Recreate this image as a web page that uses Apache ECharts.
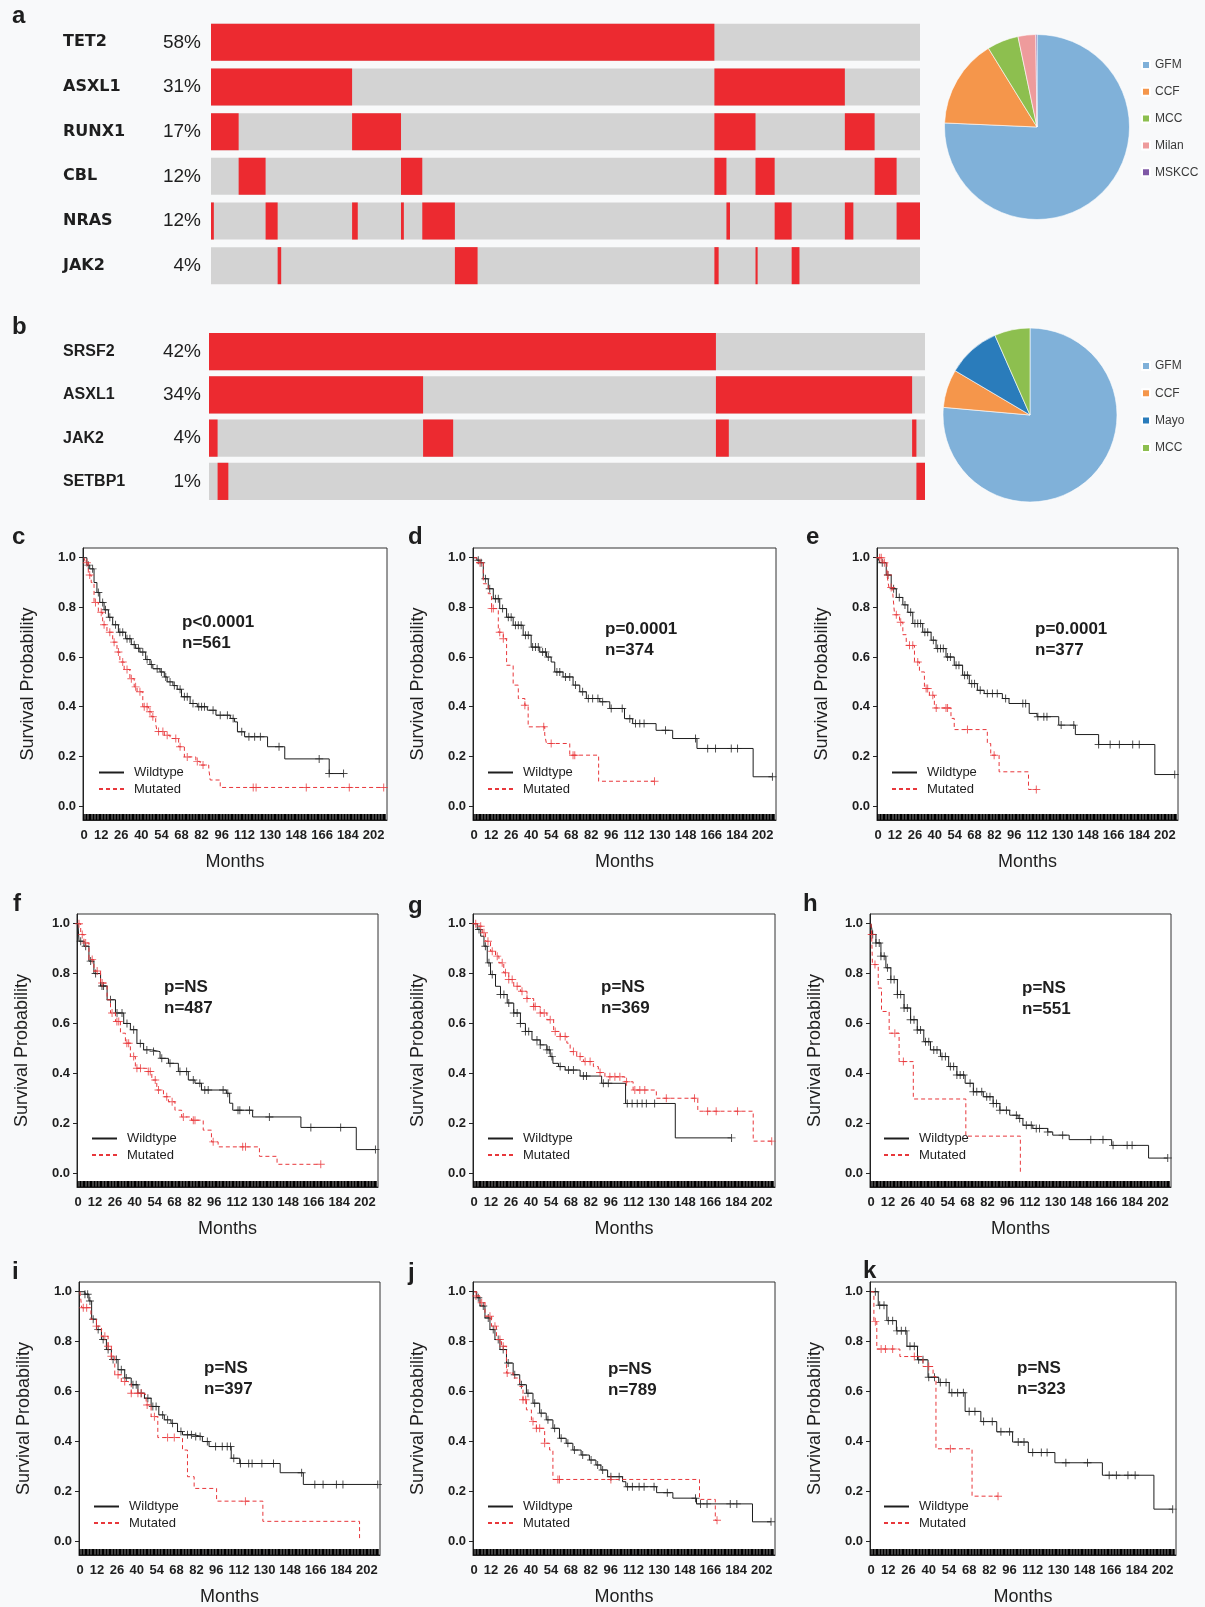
<!DOCTYPE html>
<html><head><meta charset="utf-8">
<script src="https://cdn.jsdelivr.net/npm/echarts@6/dist/echarts.min.js"></script>
<style>html,body{margin:0;padding:0;background:#F8F9FA;}#chart{width:1205px;height:1607px;}</style>
</head><body><div id="chart"></div>
<script>
// ================= DATA =================
// Panel a oncoprint
const genesA = ['TET2','ASXL1','RUNX1','CBL','NRAS','JAK2'];
const pctA = ['58%','31%','17%','12%','12%','4%'];
const trackA = [100,100,100,100,100,100];
const segA = [
 ['TET2',0,71.0],
 ['ASXL1',0,19.9],['ASXL1',71.0,89.4],
 ['RUNX1',0,3.9],['RUNX1',19.9,26.8],['RUNX1',71.0,76.8],['RUNX1',89.4,93.6],
 ['CBL',3.9,7.7],['CBL',26.8,29.8],['CBL',71.0,72.7],['CBL',76.8,79.5],['CBL',93.6,96.7],
 ['NRAS',0,0.4],['NRAS',7.7,9.4],['NRAS',19.9,20.7],['NRAS',26.8,27.2],['NRAS',29.8,34.4],['NRAS',72.7,73.2],['NRAS',79.5,81.9],['NRAS',89.4,90.6],['NRAS',96.7,100],
 ['JAK2',9.4,9.9],['JAK2',34.4,37.6],['JAK2',71.0,71.6],['JAK2',76.8,77.1],['JAK2',81.9,83.0]
];
// Panel b oncoprint
const genesB = ['SRSF2','ASXL1','JAK2','SETBP1'];
const pctB = ['42%','34%','4%','1%'];
const trackB = [100,100,100,100];
const segB = [
 ['SRSF2',0,70.8],
 ['ASXL1',0,29.9],['ASXL1',70.8,98.2],
 ['JAK2',0,1.2],['JAK2',29.9,34.1],['JAK2',70.8,72.6],['JAK2',98.2,98.8],
 ['SETBP1',1.2,2.7],['SETBP1',98.8,100]
];
// Pies
const pieANames = ['GFM','CCF','MCC','Milan','MSKCC'];
const pieAValues = [75.7,15.5,5.5,3.1,0.2];
const pieBNames = ['GFM','CCF','Mayo','MCC'];
const pieBValues = [76.4,7.1,9.9,6.6];

// KM panels
const kmLetters = ['c','d','e','f','g','h','i','j','k'];
const pLabels = ['p<0.0001','p=0.0001','p=0.0001','p=NS','p=NS','p=NS','p=NS','p=NS','p=NS'];
const nLabels = ['n=561','n=374','n=377','n=487','n=369','n=551','n=397','n=789','n=323'];
const xTickLabels = [0,12,26,40,54,68,82,96,112,130,148,166,184,202];
const yTickLabels = [0,0.2,0.4,0.6,0.8,1.0];

const cWild = [[0,1],[2,0.97],[4,0.955],[7,0.9],[9,0.86],[11,0.82],[14,0.79],[17,0.76],[20,0.73],[24,0.7],[29,0.674],[33,0.65],[36,0.635],[39,0.62],[43,0.59],[46,0.57],[48,0.553],[53,0.54],[56,0.52],[58,0.5],[62,0.485],[65,0.47],[68,0.44],[74,0.413],[79,0.4],[86,0.386],[92,0.366],[102,0.353],[105,0.339],[107,0.299],[112,0.279],[128,0.239],[140,0.19],[171,0.131],[181,0.131]];
const cWildCens = [[3,0.97],[6,0.955],[10,0.86],[13,0.82],[15,0.79],[18,0.76],[22,0.73],[25,0.7],[27,0.7],[30,0.674],[32,0.674],[35,0.65],[38,0.635],[41,0.62],[44,0.59],[47,0.57],[51,0.553],[54,0.54],[57,0.52],[60,0.5],[63,0.485],[67,0.47],[70,0.44],[72,0.44],[76,0.413],[80,0.4],[82,0.4],[84,0.4],[90,0.386],[95,0.366],[100,0.366],[104,0.353],[110,0.299],[115,0.279],[119,0.279],[123,0.279],[136,0.239],[164,0.19],[171,0.131],[181,0.131]];
const cMut = [[0,1],[1,0.98],[3,0.93],[5,0.9],[7,0.82],[10,0.78],[13,0.73],[16,0.7],[20,0.66],[23,0.62],[25,0.58],[28,0.55],[32,0.513],[35,0.48],[37,0.46],[41,0.4],[45,0.38],[47,0.36],[50,0.33],[51,0.3],[56,0.285],[60,0.272],[66,0.239],[70,0.198],[78,0.18],[81,0.165],[87,0.151],[88,0.105],[95,0.075],[209,0.075]];
const cMutCens = [[2,0.98],[4,0.93],[8,0.82],[12,0.78],[14,0.73],[18,0.7],[21,0.66],[24,0.62],[27,0.58],[30,0.55],[33,0.513],[36,0.48],[39,0.46],[42,0.4],[44,0.4],[46,0.38],[48,0.36],[52,0.3],[55,0.3],[58,0.285],[64,0.272],[67,0.239],[72,0.198],[79,0.18],[83,0.165],[118,0.075],[120,0.075],[155,0.075],[185,0.075],[209,0.075]];

const dWild = [[0,1],[2,0.99],[4.2,0.98],[6.5,0.915],[10,0.875],[13.5,0.835],[18,0.795],[22.8,0.76],[27.4,0.728],[34.4,0.688],[40,0.64],[46,0.62],[50.7,0.6],[54,0.58],[56.5,0.54],[62.3,0.52],[69.3,0.487],[74,0.46],[78.6,0.433],[88,0.42],[95,0.393],[105.3,0.352],[111,0.332],[127.4,0.305],[139,0.272],[156,0.232],[195.3,0.118],[208.8,0.118]];
const dWildCens = [[3,0.99],[5,0.98],[8,0.915],[11,0.875],[15,0.835],[17,0.835],[20,0.795],[24,0.76],[26,0.76],[29,0.728],[31,0.728],[33,0.728],[36,0.688],[38,0.688],[41,0.64],[43,0.64],[45,0.64],[48,0.62],[50,0.62],[52,0.6],[58,0.54],[60,0.54],[64,0.52],[67,0.52],[71,0.487],[76,0.46],[80,0.433],[83,0.433],[86.7,0.433],[90,0.42],[96,0.393],[103.7,0.393],[109,0.352],[113,0.332],[116,0.332],[119,0.332],[134,0.305],[155,0.272],[163.5,0.232],[169,0.232],[180,0.232],[184.4,0.232],[208.8,0.118]];
const dMut = [[0,1],[1.9,0.98],[6.5,0.895],[10,0.855],[12.3,0.795],[17,0.7],[20.5,0.674],[22.8,0.567],[27.4,0.487],[31,0.433],[35.6,0.406],[37.9,0.319],[49.5,0.286],[50.7,0.252],[67,0.205],[87.2,0.1],[126.3,0.1]];
const dMutCens = [[4.2,0.98],[12.3,0.795],[13.5,0.795],[18,0.7],[20.5,0.674],[35.6,0.406],[48.8,0.319],[54,0.252],[69.3,0.205],[70.5,0.205],[126.3,0.1]];

const eWild = [[0,1],[1.2,0.98],[5.8,0.93],[9.3,0.875],[12.9,0.84],[17.5,0.81],[21,0.78],[24.5,0.735],[31.5,0.7],[37.4,0.668],[40.9,0.634],[47.9,0.6],[53.7,0.567],[59.6,0.527],[64.3,0.493],[70,0.466],[74.8,0.453],[87.6,0.433],[92.3,0.413],[106.5,0.373],[112,0.36],[127.3,0.326],[139,0.288],[155.4,0.248],[195,0.127],[209,0.127]];
const eWildCens = [[3,0.98],[7,0.93],[11,0.875],[15,0.84],[19,0.81],[23,0.78],[26,0.735],[28,0.735],[30,0.735],[33,0.7],[35,0.7],[39,0.668],[42,0.634],[44,0.634],[46,0.634],[49,0.6],[51,0.6],[55,0.567],[57,0.567],[61,0.527],[63,0.527],[66,0.493],[68,0.493],[72,0.466],[77,0.453],[80.6,0.453],[84,0.453],[89.9,0.433],[102,0.413],[104,0.413],[112.6,0.36],[116.8,0.36],[119,0.36],[129,0.326],[137.9,0.326],[155.4,0.248],[163.5,0.248],[170,0.248],[179.4,0.248],[184,0.248],[209,0.127]];
const eMut = [[0,1],[3.5,0.98],[6.3,0.93],[7.7,0.88],[10.5,0.85],[11.7,0.77],[15.2,0.74],[17.5,0.69],[19.9,0.647],[25.7,0.58],[29.2,0.54],[32.7,0.473],[36.2,0.446],[39.7,0.395],[51.4,0.353],[53.7,0.308],[77,0.252],[79.4,0.205],[85.3,0.138],[106,0.067],[111.5,0.067]];
const eMutCens = [[1.2,1],[2.3,1],[4.5,0.98],[7,0.93],[9.3,0.88],[12.9,0.77],[16,0.74],[22.2,0.647],[24.5,0.647],[28,0.58],[33.9,0.473],[35,0.473],[38.6,0.446],[41,0.395],[47.9,0.395],[49,0.395],[63,0.308],[81.8,0.205],[111.5,0.067]];

const fWild = [[0,1],[0.7,0.93],[4.2,0.91],[7.7,0.85],[11.2,0.8],[15.9,0.75],[20.5,0.695],[26.4,0.642],[32.2,0.6],[36.9,0.575],[41.5,0.52],[46.2,0.494],[52,0.487],[57.8,0.46],[63.7,0.44],[70.7,0.407],[77.7,0.373],[82.4,0.36],[87,0.333],[104.5,0.32],[106.8,0.28],[109,0.252],[123,0.225],[157,0.183],[196,0.094],[209.5,0.094]];
const fWildCens = [[1.9,0.93],[5.4,0.91],[8.9,0.85],[12.4,0.8],[16.9,0.75],[18,0.75],[22.9,0.695],[27.5,0.642],[31,0.642],[34.5,0.6],[39.2,0.575],[43.9,0.52],[48.5,0.494],[53.2,0.487],[59,0.46],[64.8,0.44],[71.8,0.407],[76.5,0.407],[81.2,0.373],[85.8,0.36],[89.3,0.333],[91.7,0.333],[102.2,0.333],[105.5,0.32],[112.7,0.252],[114,0.252],[120.8,0.252],[134.8,0.225],[164,0.183],[185,0.183],[209.5,0.094]];
const fMut = [[0,1],[1.9,0.957],[4.2,0.923],[7.7,0.856],[11.2,0.81],[15.9,0.762],[20.5,0.695],[22.9,0.642],[26.4,0.608],[29.9,0.561],[33.4,0.521],[36.9,0.467],[40.4,0.42],[48.5,0.407],[52,0.373],[55.5,0.333],[60.2,0.306],[63.7,0.286],[68.3,0.252],[73,0.225],[80,0.212],[88.2,0.172],[94,0.125],[98.7,0.105],[127.8,0.067],[140.2,0.035],[171,0.035]];
const fMutCens = [[0.7,1],[3,0.957],[5.4,0.923],[10,0.856],[13.5,0.81],[17,0.762],[24,0.642],[27.4,0.608],[28.7,0.608],[34.4,0.521],[35.7,0.521],[39.2,0.467],[41.5,0.42],[44,0.42],[49.5,0.407],[50.9,0.407],[54.4,0.373],[56.7,0.333],[62.5,0.306],[66.3,0.286],[74.2,0.225],[81.2,0.212],[82.4,0.212],[95.2,0.125],[116,0.105],[118,0.105],[171,0.035]];

const gWild = [[0,1],[2.3,0.977],[4.7,0.95],[7,0.91],[9.3,0.843],[11.6,0.796],[15.1,0.749],[18.6,0.716],[23.3,0.682],[27.9,0.642],[32.6,0.6],[36.1,0.568],[40.7,0.534],[46.5,0.514],[51.2,0.494],[53.5,0.467],[55.4,0.44],[59.3,0.427],[64,0.413],[74.5,0.389],[89.6,0.36],[106.4,0.279],[141.3,0.141],[180.8,0.141]];
const gWildCens = [[3.5,0.977],[8,0.91],[10.5,0.843],[12.8,0.796],[18.6,0.716],[21,0.716],[24.4,0.682],[27.9,0.642],[30.3,0.642],[32.6,0.6],[36.1,0.568],[38.4,0.568],[44.2,0.534],[46.5,0.514],[51.2,0.494],[52.8,0.494],[54.7,0.467],[60.5,0.427],[66.3,0.413],[69.8,0.413],[76.8,0.389],[79,0.389],[90.8,0.36],[94.3,0.36],[107.6,0.279],[111,0.279],[114.6,0.279],[118,0.279],[121,0.279],[126.8,0.279],[180.8,0.141]];
const gMut = [[0,1],[3.5,0.99],[5.8,0.964],[8.1,0.93],[11.6,0.89],[15.1,0.87],[17.5,0.843],[20.9,0.803],[24.4,0.776],[27.9,0.749],[32.6,0.729],[37.2,0.7],[41.9,0.668],[46.5,0.642],[51.2,0.615],[55.9,0.568],[60.5,0.548],[65.2,0.521],[67.5,0.487],[72.1,0.467],[76.8,0.447],[83.8,0.427],[87.3,0.403],[91.9,0.386],[105.9,0.366],[111.7,0.333],[128,0.3],[157.1,0.248],[196,0.128],[209,0.128]];
const gMutCens = [[1.2,1],[4.7,0.99],[7,0.964],[9.8,0.93],[12.8,0.89],[16.3,0.87],[19.8,0.843],[22.1,0.803],[24.4,0.776],[26.8,0.776],[30.3,0.749],[33.7,0.729],[37.2,0.7],[41.9,0.668],[43,0.668],[46.5,0.642],[49.3,0.642],[53.5,0.615],[57,0.568],[60.5,0.548],[64,0.548],[69.8,0.487],[74.5,0.467],[78,0.447],[81.5,0.447],[88.5,0.403],[95.4,0.386],[98.9,0.386],[102.4,0.386],[107.1,0.366],[112.9,0.333],[116.4,0.333],[119.9,0.333],[135,0.3],[154.8,0.3],[164,0.248],[170,0.248],[185,0.248],[209,0.128]];

const hWild = [[0,1],[1.2,0.957],[3.5,0.923],[7,0.87],[10.5,0.823],[14,0.776],[18.6,0.716],[23.3,0.662],[27.9,0.615],[32.6,0.574],[37.2,0.527],[41.9,0.494],[48.9,0.467],[54.7,0.427],[60.5,0.393],[66.3,0.36],[72.1,0.326],[79.1,0.306],[86,0.279],[90.8,0.252],[97.7,0.232],[103.6,0.219],[107,0.192],[114,0.179],[124.5,0.165],[128,0.152],[139.6,0.134],[169.5,0.111],[195.5,0.06],[209,0.06]];
const hWildCens = [[1.2,0.957],[3.5,0.923],[5.8,0.923],[7,0.87],[9.3,0.87],[11.6,0.823],[14,0.776],[16.3,0.776],[18.6,0.716],[20.9,0.716],[23.3,0.662],[25.6,0.662],[27.9,0.615],[30.3,0.615],[32.6,0.574],[34.9,0.574],[38.4,0.527],[40.7,0.527],[44.2,0.494],[46.5,0.494],[50,0.467],[52.4,0.467],[55.9,0.427],[58.2,0.427],[60.5,0.393],[62.8,0.393],[65.2,0.393],[69.8,0.36],[72.1,0.326],[74.5,0.326],[78,0.326],[81.5,0.306],[83.8,0.306],[86.1,0.279],[88.4,0.279],[90.8,0.252],[95.4,0.252],[102.4,0.232],[104.7,0.219],[109.4,0.192],[112.9,0.192],[116.4,0.179],[118.7,0.179],[124.5,0.165],[135,0.152],[154.8,0.134],[163.4,0.134],[170.5,0.111],[180.4,0.111],[183.9,0.111],[209,0.06]];
const hMut = [[0,1],[0.5,0.957],[1,0.836],[5.1,0.742],[7.4,0.648],[12.8,0.561],[19.8,0.447],[29.8,0.297],[66.8,0.148],[105.2,0]];
const hMutCens = [[0.5,0.957],[2.8,0.836],[16.8,0.561],[22.8,0.447]];

const iWild = [[0,1],[3.5,0.99],[6.3,0.963],[8.2,0.89],[11.6,0.848],[15.1,0.808],[18.6,0.768],[22.1,0.728],[26.8,0.687],[31.5,0.654],[36.1,0.627],[40.8,0.593],[45.4,0.573],[50.1,0.54],[55.5,0.506],[59.4,0.486],[64.1,0.472],[68.7,0.439],[72.2,0.426],[80.4,0.419],[86.2,0.399],[90.9,0.379],[106.5,0.332],[112.5,0.311],[141,0.274],[157.3,0.227],[209.7,0.227]];
const iWildCens = [[3.5,0.99],[5.4,0.99],[7,0.963],[9.3,0.89],[12.8,0.848],[16.3,0.808],[19.8,0.768],[23.3,0.728],[25.6,0.728],[29.1,0.687],[32.6,0.654],[37.3,0.627],[39.6,0.627],[43.1,0.593],[47.8,0.573],[51.3,0.54],[53.6,0.54],[58.2,0.506],[61.7,0.486],[65.2,0.472],[71.1,0.439],[75.7,0.426],[78.5,0.426],[81.5,0.419],[84.6,0.419],[89.7,0.399],[95.5,0.379],[100.2,0.379],[103.7,0.379],[106,0.379],[108.3,0.332],[113,0.311],[118.8,0.311],[121.2,0.311],[128.1,0.311],[136.3,0.311],[156.1,0.274],[165.4,0.227],[171.2,0.227],[180.6,0.227],[185.2,0.227],[209.7,0.227]];
const iMut = [[0,1],[1.2,0.936],[7.7,0.889],[11.6,0.862],[15.1,0.821],[19.8,0.781],[22.1,0.741],[24.5,0.667],[29.1,0.64],[33.8,0.634],[36.1,0.593],[44.3,0.587],[46.6,0.546],[50.1,0.499],[54.8,0.415],[72.2,0.365],[75.7,0.258],[80.4,0.211],[96.2,0.16],[128.8,0.079],[196.9,0]];
const iMutCens = [[2.3,0.936],[4.7,0.936],[11.6,0.862],[17.5,0.821],[19.8,0.781],[22.1,0.741],[26.8,0.667],[31.5,0.64],[36.1,0.593],[40.8,0.593],[43.1,0.593],[47.3,0.546],[52.4,0.499],[61.7,0.415],[66.4,0.415],[116.5,0.16]];

const jWild = [[0,1],[1.9,0.976],[4.2,0.943],[7.7,0.895],[11.2,0.848],[14.7,0.808],[18.2,0.768],[22.8,0.714],[27.5,0.667],[32.1,0.627],[36.8,0.593],[41.4,0.553],[46.1,0.513],[50.7,0.486],[55.4,0.452],[60,0.412],[64.7,0.392],[69.4,0.365],[75.2,0.345],[81,0.325],[85.6,0.305],[89.1,0.285],[93.8,0.258],[104.3,0.238],[106.6,0.218],[128.2,0.194],[139.6,0.172],[156.2,0.149],[195.5,0.077],[208.5,0.077]];
const jWildCens = [[3,0.976],[6.5,0.943],[10,0.895],[13.5,0.848],[17,0.808],[20.5,0.768],[24,0.714],[28.6,0.667],[33.3,0.627],[37.9,0.593],[42.6,0.553],[47.2,0.513],[51.9,0.486],[56.6,0.452],[61.2,0.412],[65.9,0.392],[70.5,0.365],[76.3,0.345],[82.2,0.325],[86.8,0.305],[90.3,0.285],[96.1,0.258],[101.9,0.258],[107.8,0.218],[111.2,0.218],[115.9,0.218],[119.4,0.218],[126.4,0.218],[135.7,0.194],[155.5,0.172],[159,0.149],[163.6,0.149],[179.9,0.149],[184.5,0.149],[208.5,0.077]];
const jMut = [[0,1],[1.9,0.983],[4.2,0.956],[7.7,0.902],[12.3,0.862],[15.8,0.808],[19.3,0.781],[22.8,0.674],[27.5,0.654],[32.1,0.62],[34.4,0.567],[36.8,0.526],[40.3,0.479],[43.8,0.452],[49.6,0.392],[53.1,0.365],[55.4,0.247],[158.3,0.167],[169.4,0.083],[170.6,0.083]];
const jMutCens = [[1.4,0.983],[5.4,0.956],[11.2,0.902],[14.7,0.862],[18.2,0.808],[20.5,0.781],[23.3,0.674],[34.4,0.567],[36.3,0.567],[41.4,0.479],[43.8,0.452],[46.1,0.452],[49.6,0.392],[58.9,0.247],[60,0.247],[96.1,0.247],[170.6,0.083]];

const kWild = [[0,1],[5,0.946],[11,0.884],[17.6,0.843],[24.9,0.781],[32.2,0.727],[39.5,0.657],[46.9,0.636],[54.2,0.595],[65.2,0.52],[76.1,0.479],[87.1,0.438],[98.1,0.397],[109,0.355],[127.4,0.314],[160.3,0.264],[196,0.128],[209,0.128]];
const kWildCens = [[3,1],[6,0.946],[9,0.946],[12,0.884],[15,0.884],[18,0.843],[21,0.843],[24,0.843],[27,0.781],[30,0.781],[33,0.727],[36,0.727],[40,0.657],[44,0.657],[48,0.636],[52,0.636],[56,0.595],[60,0.595],[64,0.595],[68,0.52],[72,0.52],[78,0.479],[84,0.479],[90,0.438],[96,0.438],[102,0.397],[106,0.397],[112,0.355],[118,0.355],[122,0.355],[135,0.314],[150,0.314],[165,0.264],[170,0.264],[178,0.264],[183,0.264],[209,0.128]];
const kMut = [[0,1],[2,0.88],[4,0.77],[20,0.74],[36,0.7],[43,0.66],[45,0.37],[70,0.18],[88,0.18]];
const kMutCens = [[3,0.88],[7,0.77],[10,0.77],[15,0.77],[30,0.74],[40,0.7],[55,0.37],[88,0.18]];

const kmWild = [cWild,dWild,eWild,fWild,gWild,hWild,iWild,jWild,kWild];
const kmWildCens = [cWildCens,dWildCens,eWildCens,fWildCens,gWildCens,hWildCens,iWildCens,jWildCens,kWildCens];
const kmMut = [cMut,dMut,eMut,fMut,gMut,hMut,iMut,jMut,kMut];
const kmMutCens = [cMutCens,dMutCens,eMutCens,fMutCens,gMutCens,hMutCens,iMutCens,jMutCens,kMutCens];

// ================= LAYOUT / STYLE =================
const kmBox = [[83,548,304,272],[473,548,303,272],[877,548,301,272],
  [77,914,301,273],[473,914,302,273],[870,914,301,273],
  [79,1282,301,274],[473,1282,302,274],[870,1282,306,274]];
const kmLetterPos = [[12,537],[408,537],[806,537],[13,904],[408,906],[803,904],[12,1272],[408,1273],[863,1271]];
const kmTextPos = [[182,622],[605,629],[1035,629],[164,987],[601,987],[1022,988],[204,1368],[608,1369],[1017,1368]];
const kmLegendPos = [[98,766],[487,766],[891,766],[91,1132],[487,1132],[883,1132],[93,1500],[487,1500],[883,1500]];
const RED = '#EC2A30', GRAY = '#D3D3D3', INK = '#1E1E1E';
const pieColors = {GFM:'#80B1D9', CCF:'#F5964B', MCC:'#8DBF4F', Milan:'#EE9B9C', MSKCC:'#7F58A6', Mayo:'#2A7CBB'};
const plus = 'path://M-0.6,-5H0.6V-0.6H5V0.6H0.6V5H-0.6V0.6H-5V-0.6H-0.6Z';
const FONT = 'Liberation Sans, Arial, sans-serif';
const monthTicks = []; for (let m = 0; m <= 210; m++) monthTicks.push(m);

const option = {
  backgroundColor: '#F8F9FA', animation: false,
  textStyle: {fontFamily: FONT},
  grid: [], xAxis: [], yAxis: [], series: [], legend: [], graphic: []
};

function txt(x, y, text, size, weight, align) {
  option.graphic.push({type:'text', x:x, y:y, silent:true,
    style:{text:text, fontSize:size, fontWeight:weight, fontFamily:FONT, fill:INK,
      align:align||'left', verticalAlign:'middle', textAlign:align||'left', textVerticalAlign:'middle'}});
}

function onco(genes, pcts, track, segs, box, hFrac, geneFont) {
  const gi = option.grid.length;
  option.grid.push({left:box[0], top:box[1], width:box[2], height:box[3]});
  const xi = option.xAxis.length;
  option.xAxis.push({gridIndex:gi, type:'value', min:0, max:100, show:false});
  const yi = option.yAxis.length;
  option.yAxis.push({gridIndex:gi, type:'category', data:genes, inverse:true, position:'left',
    axisLine:{show:false}, axisTick:{show:false},
    axisLabel:{align:'left', margin:box[0]-63, fontSize:16, fontWeight:'bold', fontFamily:geneFont, color:INK}});
  option.yAxis.push({gridIndex:gi, type:'category', data:genes, inverse:true, position:'left',
    axisLine:{show:false}, axisTick:{show:false},
    axisLabel:{margin:box[0]-201, fontSize:19, color:INK, fontFamily:FONT, formatter:(v,i)=>pcts[i]}});
  const bw = box[3]/genes.length*hFrac;
  option.series.push({type:'bar', xAxisIndex:xi, yAxisIndex:yi, data:track, barWidth:bw, silent:true,
    z:1, itemStyle:{color:GRAY}});
  option.series.push({type:'custom', xAxisIndex:xi, yAxisIndex:yi, silent:true, z:5,
    data: segs.map(s=>[genes.indexOf(s[0]), s[1], s[2]]),
    encode:{x:[1,2], y:0},
    renderItem:function(params, api){
      const r = api.value(0);
      const p0 = api.coord([api.value(1), r]);
      const p1 = api.coord([api.value(2), r]);
      const h = api.size([0,1])[1]*hFrac;
      return {type:'rect', z2:10, shape:{x:p0[0], y:p0[1]-h/2, width:Math.max(p1[0]-p0[0],1.2), height:h}, style:{fill:RED}};
    }});
}
onco(genesA, pctA, trackA, segA, [211,20,709,268], 0.83, 'DejaVu Sans, sans-serif');
onco(genesB, pctB, trackB, segB, [209,330,716,173], 0.86, FONT);

function pie(names, values, center, r, legTop, gap) {
  option.series.push({type:'pie', center:center, radius:[0,r], startAngle:90, clockwise:true,
    label:{show:false}, labelLine:{show:false}, silent:true,
    itemStyle:{borderColor:'#ffffff', borderWidth:0.6},
    data: names.map((n,i)=>({name:n, value:values[i], itemStyle:{color:pieColors[n]}}))});
  option.legend.push({data:names, orient:'vertical', left:1141, top:legTop, icon:'rect',
    itemWidth:8, itemHeight:8, itemGap:gap, selectedMode:false, padding:0,
    textStyle:{fontSize:12, color:'#3A3A3A', fontFamily:FONT}});
}
pie(pieANames, pieAValues, [1037,127], 92.5, 59, 14.8);
pie(pieBNames, pieBValues, [1030,415], 87, 360, 15.3);

txt(12, 16, 'a', 24, 'bold');
txt(12, 327, 'b', 24, 'bold');

kmLetters.forEach((L, k) => {
  const b = kmBox[k];
  const gi = option.grid.length;
  option.grid.push({left:b[0], top:b[1], width:b[2], height:b[3], show:true,
    backgroundColor:'#FFFFFF', borderColor:'#333333', borderWidth:1});
  const xi = option.xAxis.length;
  option.xAxis.push({gridIndex:gi, type:'value', min:-0.7, max:211.3,
    axisLine:{show:true, onZero:false, lineStyle:{color:'#222', width:1}},
    axisTick:{show:true, inside:true, length:6, customValues:monthTicks, lineStyle:{color:'#000', width:1.5}},
    axisLabel:{show:true, customValues:xTickLabels, margin:9, fontSize:13, fontWeight:'bold', color:INK},
    splitLine:{show:false},
    name:'Months', nameLocation:'middle', nameGap:33,
    nameTextStyle:{fontSize:18, color:INK, fontFamily:FONT}});
  const yi = option.yAxis.length;
  option.yAxis.push({gridIndex:gi, type:'value', min:-0.056, max:1.039,
    axisLine:{show:true, onZero:false, lineStyle:{color:'#222', width:1}},
    axisTick:{show:true, length:4, customValues:yTickLabels, lineStyle:{color:'#222'}},
    axisLabel:{show:true, customValues:yTickLabels, margin:7, fontSize:13, fontWeight:'bold', color:INK,
      formatter:v=>Number(v).toFixed(1)},
    splitLine:{show:false},
    name:'Survival Probability', nameLocation:'middle', nameGap:46, nameRotate:90,
    nameTextStyle:{fontSize:18, color:INK, fontFamily:FONT}});
  option.series.push({type:'line', name:'Wildtype', xAxisIndex:xi, yAxisIndex:yi, data:kmWild[k],
    step:'end', symbol:'none', silent:true, lineStyle:{color:INK, width:1}, itemStyle:{color:INK}, z:3});
  option.series.push({type:'scatter', name:'wildCensor', xAxisIndex:xi, yAxisIndex:yi, data:kmWildCens[k],
    symbol:plus, symbolSize:8, silent:true, itemStyle:{color:INK}, z:3});
  option.series.push({type:'line', name:'Mutated', xAxisIndex:xi, yAxisIndex:yi, data:kmMut[k],
    step:'end', symbol:'none', silent:true, lineStyle:{color:'#E8373B', width:1, type:[4,3]}, itemStyle:{color:'#E8373B'}, z:4});
  option.series.push({type:'scatter', name:'mutCensor', xAxisIndex:xi, yAxisIndex:yi, data:kmMutCens[k],
    symbol:plus, symbolSize:8, silent:true, itemStyle:{color:'#E8373B'}, z:4});
  option.legend.push({data:['Wildtype','Mutated'], orient:'vertical', left:kmLegendPos[k][0], top:kmLegendPos[k][1],
    itemWidth:25, itemHeight:12, itemGap:3.6, selectedMode:false, padding:0,
    itemStyle:{color:'rgba(0,0,0,0)', borderColor:'rgba(0,0,0,0)', borderWidth:0, opacity:0},
    textStyle:{fontSize:13, color:INK, fontFamily:FONT, padding:[0,0,0,5]}});
  txt(kmLetterPos[k][0], kmLetterPos[k][1], L, 24, 'bold');
  txt(kmTextPos[k][0], kmTextPos[k][1], pLabels[k], 17, 'bold');
  txt(kmTextPos[k][0], kmTextPos[k][1]+21, nLabels[k], 17, 'bold');
});

const chart = echarts.init(document.getElementById('chart'), null, {renderer:'canvas'});
chart.setOption(option);
</script>
</body></html>
